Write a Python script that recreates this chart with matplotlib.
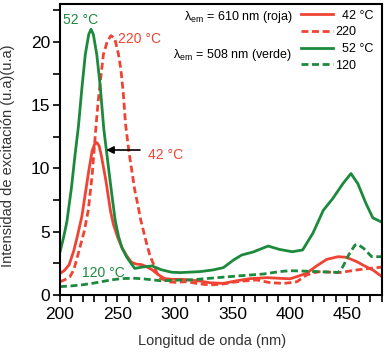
import matplotlib
matplotlib.use("Agg")
import matplotlib.pyplot as plt
from matplotlib.ticker import MultipleLocator

plt.rcParams['font.family'] = ['Liberation Sans', 'DejaVu Sans']
plt.rcParams['mathtext.fontset'] = 'custom'
plt.rcParams['mathtext.rm'] = 'Liberation Sans'
plt.rcParams['mathtext.it'] = 'Liberation Sans:italic'

RED = '#ef4433'
GREEN = '#1c8a3c'

# roja, 42 °C
wl_r42 = [200, 204, 208, 212, 215, 219, 222, 225, 228, 230, 232, 234, 236, 238, 240,
          242, 244, 246.4, 250, 253.6, 258, 262, 266, 271, 275, 280, 285.5, 291, 298,
          306, 313, 322, 330, 342, 354, 365, 380, 391, 400, 406, 414.5, 423, 432, 442,
          449, 458, 465, 472, 480]
i_r42 = [1.7, 1.95, 2.4, 3.5, 4.6, 6.2, 8.0, 9.8, 11.4, 11.9, 12.05, 11.8, 11.0, 10.0, 9.0,
         7.8, 6.6, 5.6, 4.6, 3.8, 3.1, 2.6, 2.45, 2.4, 2.25, 2.0, 1.6, 1.3, 1.24,
         1.24, 1.19, 1.1, 0.97, 0.92, 1.13, 1.29, 1.37, 1.32, 1.28, 1.45, 1.72, 2.29, 2.82, 3.03,
         2.98, 2.64, 2.29, 1.98, 1.45]

# roja, 220 °C
wl_r220 = [200, 204, 208.7, 212, 214.5, 218, 221, 224.6, 228, 231, 233.3, 235, 237.7, 241,
           244.3, 247.5, 250.7, 253, 255, 257, 260, 262.5, 265, 268, 270, 272.5, 275.5, 278,
           281, 284, 287, 294, 300, 310, 320, 330, 342, 350, 359, 371, 383, 394, 400, 406,
           410, 414.5, 420, 426, 443, 458, 470, 480]
i_r220 = [1.05, 1.2, 1.45, 2.0, 2.8, 4.0, 5.0, 6.7, 9.5, 13.0, 15.4, 16.8, 19.0, 20.0,
          20.5, 20.3, 19.1, 17.8, 16.0, 13.5, 11.3, 9.8, 8.3, 7.0, 6.0, 5.1, 4.0, 3.2,
          2.5, 1.8, 1.35, 1.05, 1.0, 1.05, 0.9, 0.79, 0.87, 1.0, 1.1, 1.19, 0.97, 0.92, 0.97, 1.05,
          1.3, 1.58, 1.75, 1.84, 1.77, 1.98, 2.11, 2.2]

# verde, 52 °C
wl_g52 = [200, 203, 206, 210, 213, 216, 219, 222, 225, 227, 229, 232, 235, 238, 242, 245,
          248, 251, 254, 258, 261, 265, 271, 280, 288, 297, 305, 322, 333, 342, 351, 358,
          368, 381, 391, 402, 411, 420, 429, 437, 446, 453, 459, 466, 472, 480]
i_g52 = [3.4, 4.5, 5.8, 8.5, 11.0, 13.3, 16.3, 19.0, 20.6, 21.0, 20.6, 19.0, 16.5, 13.2, 10.2, 8.0,
         5.9, 4.6, 3.7, 3.0, 2.6, 2.1, 2.2, 2.3, 2.0, 1.8, 1.77, 1.85, 1.98, 2.16, 2.77, 3.16,
         3.4, 3.87, 3.6, 3.42, 3.56, 4.9, 6.7, 7.6, 8.8, 9.6, 8.8, 7.25, 6.1, 5.75]

# verde, 120 °C
wl_g120 = [200, 210, 219, 228, 236, 245, 254, 265, 272, 280, 288, 295, 305, 313, 330, 354,
           377, 391, 400, 409, 426, 442, 446, 451, 456.5, 459, 464, 471, 480]
i_g120 = [0.66, 0.72, 0.8, 0.92, 1.05, 1.2, 1.3, 1.32, 1.28, 1.2, 1.12, 1.15, 1.18, 1.19, 1.32, 1.5,
          1.66, 1.85, 1.92, 1.9, 1.84, 1.79, 2.24, 3.16, 3.95, 4.0, 3.69, 3.03, 3.03]

fig = plt.figure(figsize=(3.86, 3.53), dpi=100)
ax = fig.add_axes([0.1554, 0.1643, 0.8342, 0.8244])

lw = 2.0
dash = (2.5, 1.3)
style = dict(solid_joinstyle='round', dash_joinstyle='round')
l1, = ax.plot(wl_r42, i_r42, color=RED, lw=lw, **style)
l2, = ax.plot(wl_r220, i_r220, color=RED, lw=lw, ls=(0, dash), **style)
l3, = ax.plot(wl_g52, i_g52, color=GREEN, lw=lw, **style)
l4, = ax.plot(wl_g120, i_g120, color=GREEN, lw=lw, ls=(0, dash), **style)

ax.set_xlim(200, 480)
ax.set_ylim(0, 23)
ax.xaxis.set_major_locator(MultipleLocator(50))
ax.xaxis.set_minor_locator(MultipleLocator(10))
ax.yaxis.set_major_locator(MultipleLocator(5))
ax.yaxis.set_minor_locator(MultipleLocator(2.5))
ax.tick_params(which='both', direction='out', length=5, width=1.2)
ax.tick_params(axis='x', labelsize=12.5, pad=3.5)
ax.tick_params(axis='y', labelsize=12.5, pad=2)
for s in ax.spines.values():
    s.set_linewidth(1.5)

ax.set_xlabel('Longitud de onda (nm)', fontsize=10.5, color='#333333')
ax.set_ylabel('Intensidad de excitación (u.a)(u.a)', fontsize=10.5, color='#333333')
ax.xaxis.set_label_coords(0.472, -0.135)
ax.yaxis.set_label_coords(-0.14, 0.478)

# labels on the curves
ax.text(202.5, 21.7, '52 °C', color=GREEN, fontsize=10, va='center', ha='left')
ax.text(250.4, 20.2, '220 °C', color=RED, fontsize=10, va='center', ha='left')
ax.text(276.5, 11.07, '42 °C', color=RED, fontsize=10, va='center', ha='left')
ax.text(218.8, 1.77, '120 °C', color=GREEN, fontsize=10, va='center', ha='left')
ax.annotate('', xy=(237.7, 11.46), xytext=(272, 11.46),
            arrowprops=dict(arrowstyle='-|>', color='black', lw=1.2, mutation_scale=11))

# legend
ax.legend([l1, l2, l3, l4], ['  42 °C', '220', '  52 °C', '120'],
          loc='upper left', bbox_to_anchor=(0.75, 0.981), frameon=False,
          fontsize=9, handlelength=2.5, handletextpad=0.18, labelspacing=0.38,
          borderpad=0, borderaxespad=0)
ax.text(402, 22.0, 'λ$_{\\mathrm{em}}$ = 610 nm (roja)', fontsize=9, ha='right', va='center')
ax.text(402, 19.0, 'λ$_{\\mathrm{em}}$ = 508 nm (verde)', fontsize=9, ha='right', va='center')

fig.savefig('out.png', dpi=100)
